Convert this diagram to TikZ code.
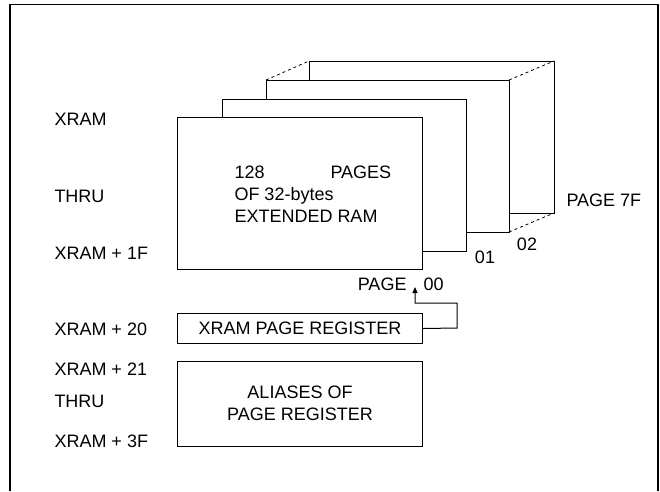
\documentclass[tikz,border=0pt]{standalone}
\usepackage{fontspec}
\setmainfont{Liberation Sans}
\usetikzlibrary{arrows.meta}
\begin{document}
\begin{tikzpicture}[x=1pt,y=-1pt,line width=1pt,
  lbl/.style={font=\fontsize{18}{21}\selectfont,inner sep=0pt},
  llbl/.style={lbl,anchor=west},
  blbl/.style={lbl,anchor=base west},
  page/.style={draw,fill=white},
  pgbox/.style={draw,fill=white,inner sep=0pt,font=\fontsize{18}{22}\selectfont}]
\useasboundingbox (0,0) rectangle (660,491);
% outer frame (open at bottom)
\draw[line width=1.2pt] (10,491) -- (10,4.5) -- (658,4.5) -- (658,491);
% stacked pages, back to front
\draw[page] (309,61) rectangle (554,213);
\coordinate (p3tl) at (266,80);
\coordinate (p3tr) at (509,80);
\coordinate (p3br) at (509,232);
\draw[page] (p3tl) rectangle (p3br);
\draw[dashed,line width=0.8pt] (p3tl) -- (309,61);
\draw[dashed,line width=0.8pt] (p3tr) -- (554,61);
\draw[dashed,line width=0.8pt] (p3br) -- (554,213);
\draw[page] (222,99) rectangle (466,251);
\node[page,minimum width=245pt,minimum height=152pt,inner sep=0pt,anchor=north west] (p0) at (177,117) {};
% text in front page
\node[blbl] (t128) at (234,178) {128};
\node[blbl] (tpages) at (330,178) {PAGES};
\node[blbl] (tof) at (234,200) {OF 32-bytes};
\node[blbl] (text) at (234,222) {EXTENDED RAM};
% page labels
\node[lbl] (l01) at (485,257) {01};
\node[lbl] (l02) at (527,244) {02};
\node[llbl] (l7f) at (566,200) {PAGE 7F};
\node[lbl,anchor=east] (lpage) at (407,284) {PAGE};
\node[llbl] (l00) at (423,284) {00};
% register boxes
\node[pgbox,minimum width=245pt,minimum height=30pt,anchor=north west] (reg) at (177,313) {XRAM PAGE REGISTER};
\node[pgbox,minimum width=245pt,minimum height=85pt,anchor=north west] (ali) at (177,361) {};
\node[lbl,anchor=base] (ali1) at (300,398) {ALIASES OF};
\node[lbl,anchor=base] (ali2) at (300,420) {PAGE REGISTER};
% arrow
\coordinate (a1) at (457,328);
\coordinate (a2) at (457,303);
\coordinate (a3) at (415,303);
\coordinate (a4) at (415,287);
\draw[-{Triangle[length=6pt,width=5pt]}] (reg.east) -- (a1) -- (a2) -- (a3) -- (a4);
% left labels
\node[llbl] (x0) at (54,119) {XRAM};
\node[llbl] (x1) at (54,196) {THRU};
\node[llbl] (x2) at (54,253) {XRAM + 1F};
\node[llbl] (x3) at (54,329) {XRAM + 20};
\node[llbl] (x4) at (54,369) {XRAM + 21};
\node[llbl] (x5) at (54,401) {THRU};
\node[llbl] (x6) at (54,441) {XRAM + 3F};
\end{tikzpicture}
\end{document}
